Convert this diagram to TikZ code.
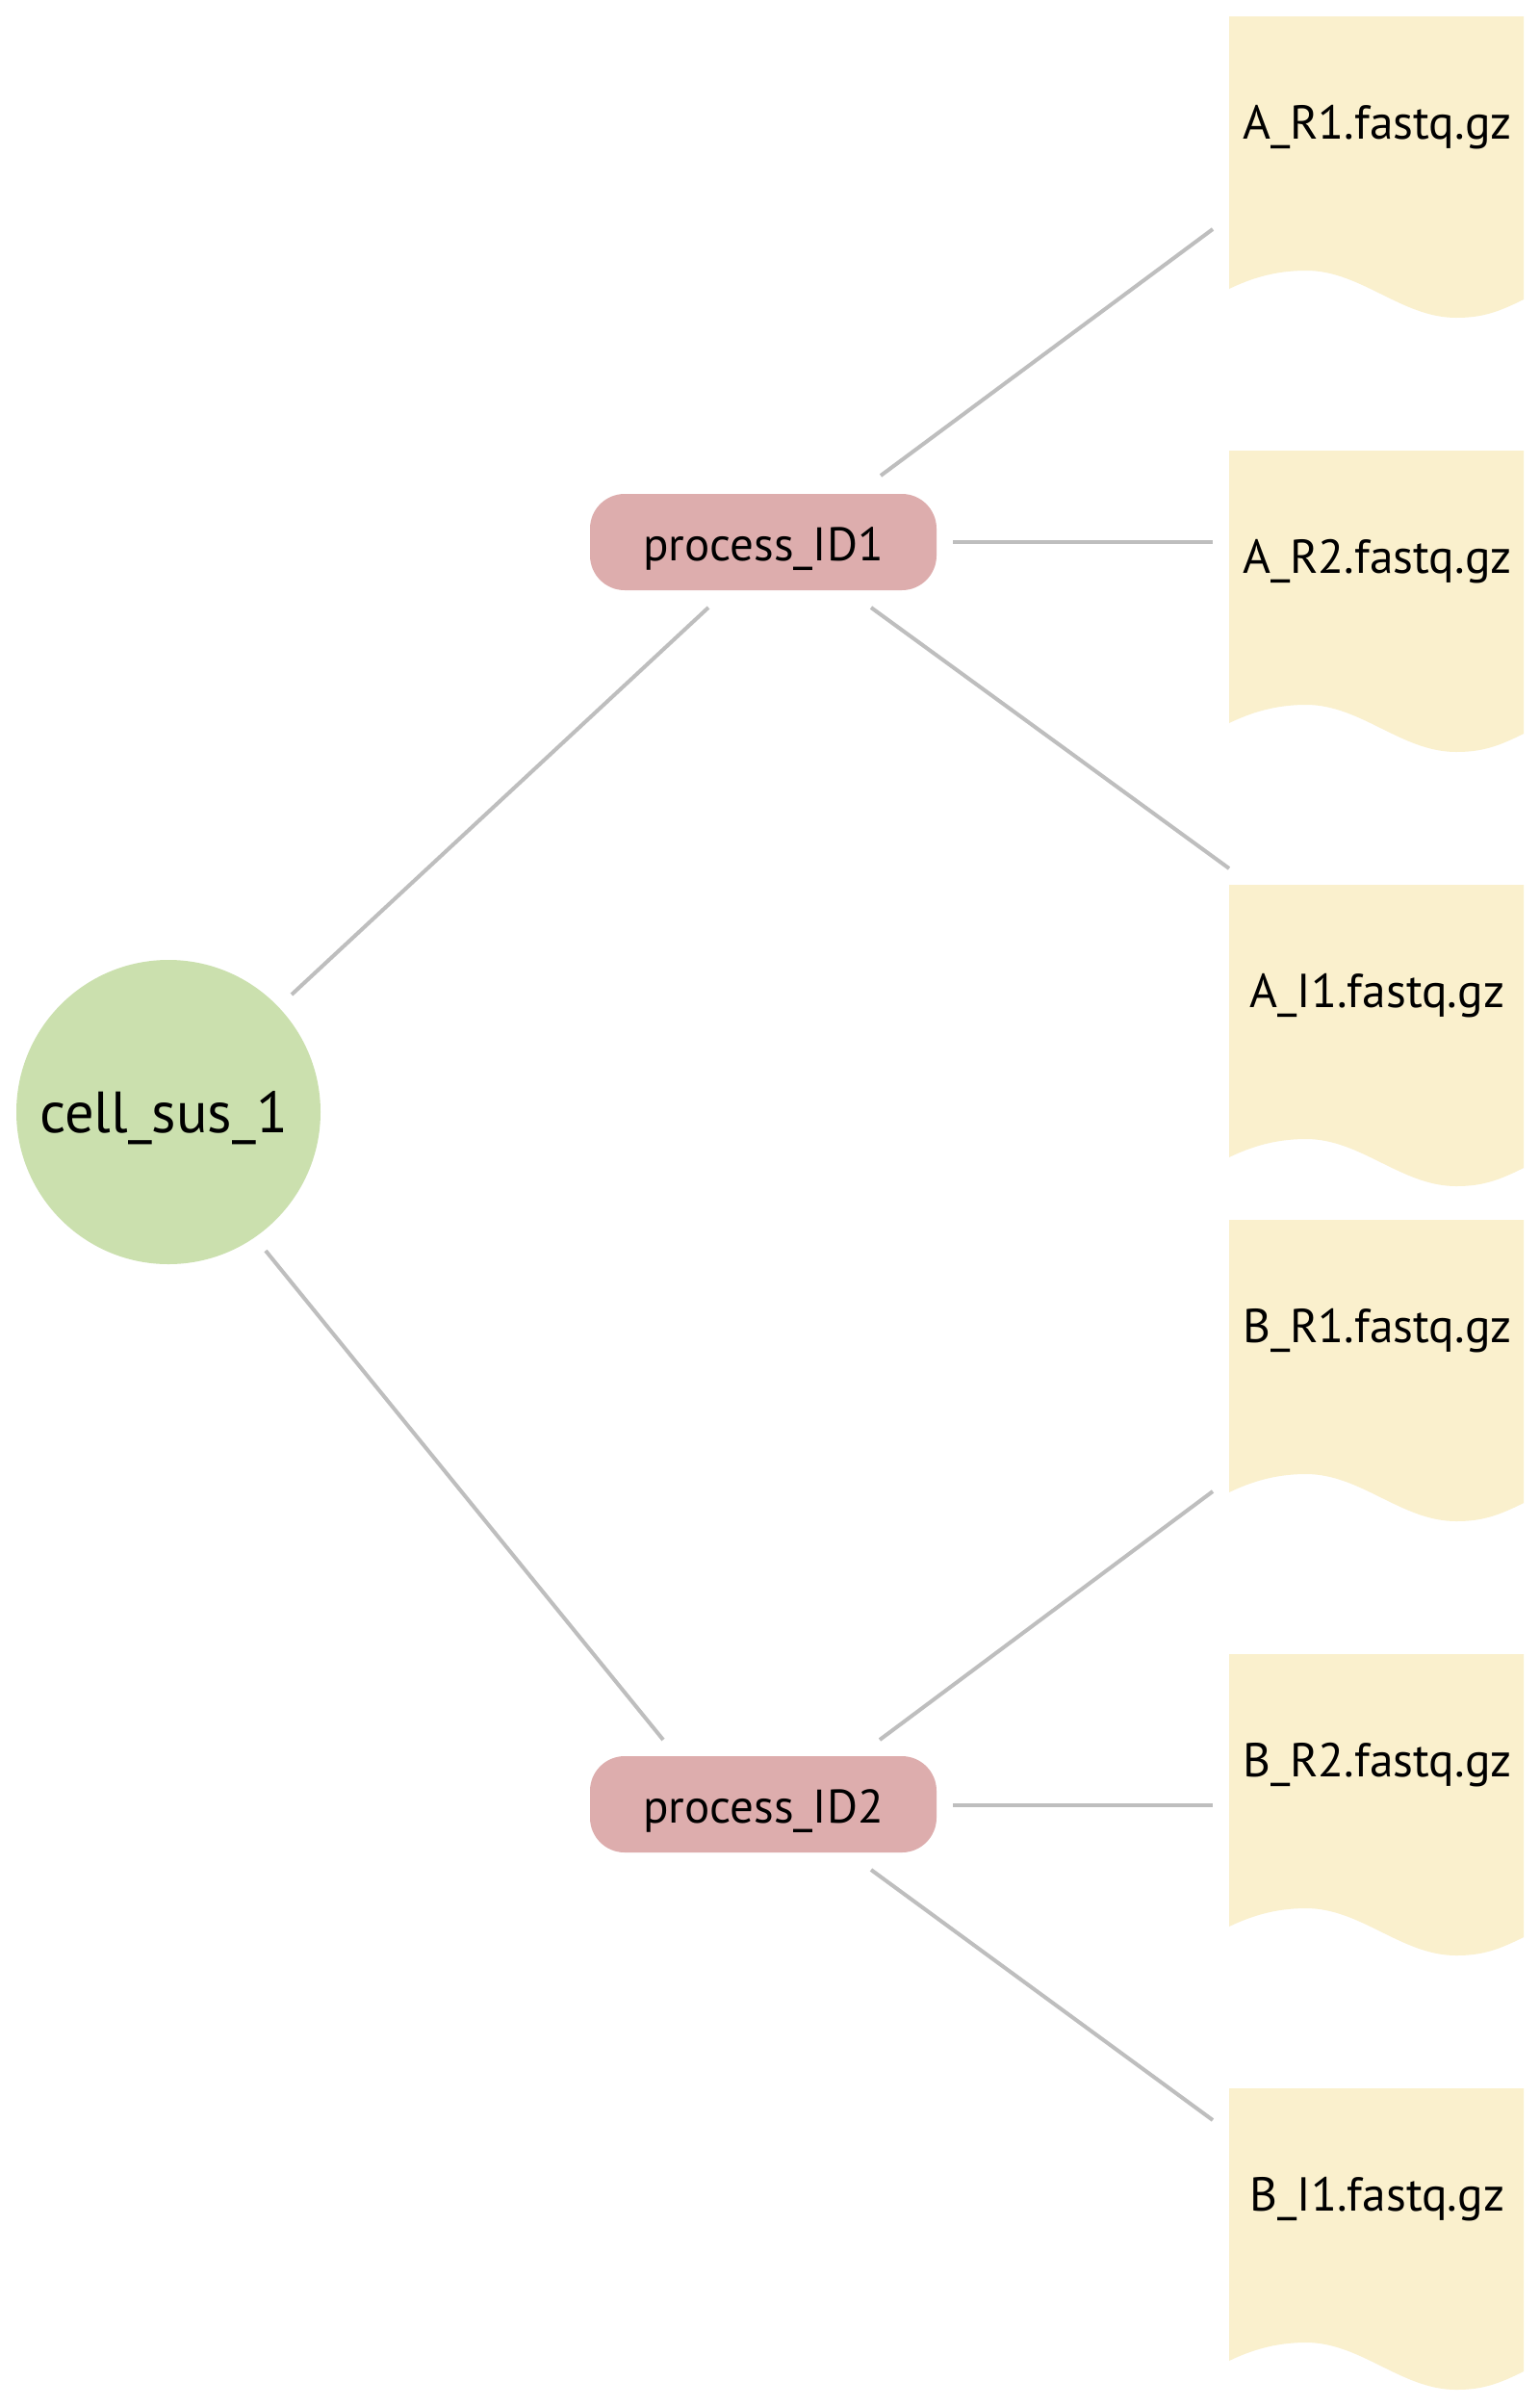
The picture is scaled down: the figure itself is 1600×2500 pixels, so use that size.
\documentclass[tikz,border=0pt]{standalone}
\usepackage{fontspec}
\setmainfont{PT Sans}
\definecolor{cellgreen}{RGB}{203,224,174}
\definecolor{procpink}{RGB}{221,173,173}
\definecolor{docyellow}{RGB}{250,240,205}
\definecolor{edgegray}{RGB}{190,190,190}
\newcommand\docat[3]{%
  \fill[docyellow] (1277,#1) -- (1583,#1) -- (1583,{#1+294})
    .. controls (1557,{#1+307}) and (1540,{#1+313}) .. (1513,{#1+313})
    .. controls (1456,{#1+313}) and (1414,{#1+264}) .. (1357,{#1+264})
    .. controls (1325,{#1+264}) and (1300,{#1+272}) .. (1277,{#1+283}) -- cycle;
  \node[doctext] (#2) at (1431,{#1+127}) {#3};
}
\begin{document}
\begin{tikzpicture}[x=1pt,y=-1pt,
  doctext/.style={anchor=base,inner sep=0pt,font=\fontsize{49.5}{58}\selectfont},
  proc/.style={fill=procpink,rounded corners=36pt,minimum width=360pt,minimum height=100pt,
    inner sep=0pt,text height=34pt,text depth=0pt,font=\fontsize{49}{58}\selectfont},
  cellnode/.style={circle,fill=cellgreen,minimum size=316pt,inner sep=0pt,
    text height=42pt,text depth=0pt,font=\fontsize{60.5}{72}\selectfont},
  edge/.style={draw=edgegray,line width=4pt}]
\useasboundingbox (0,0) rectangle (1600,2500);
\fill[white] (0,0) rectangle (1600,2500);

\node[cellnode] (cell) at (175,1155) {\hspace*{-10pt}cell\_sus\_1};
\node[proc] (p1) at (793,563) {\raisebox{-2pt}{process\_ID1}};
\node[proc] (p2) at (793,1874) {\raisebox{-2pt}{process\_ID2}};

\docat{17}{ar1}{A\_R1.fastq.gz}
\docat{468}{ar2}{A\_R2.fastq.gz}
\docat{919}{ai1}{A\_I1.fastq.gz}
\docat{1267}{br1}{B\_R1.fastq.gz}
\docat{1718}{br2}{B\_R2.fastq.gz}
\docat{2169}{bi1}{B\_I1.fastq.gz}

% connector end points
\coordinate (c-up) at (303,1033);
\coordinate (p1-in) at (736,631);
\coordinate (c-dn) at (276,1299);
\coordinate (p2-in) at (689,1807);
\coordinate (p1-a) at (915,494);
\coordinate (ar1-in) at (1260,238);
\coordinate (p1-b) at (990,563);
\coordinate (ar2-in) at (1260,563);
\coordinate (p1-c) at (905,631);
\coordinate (ai1-in) at (1277,902);
\coordinate (p2-a) at (914,1807);
\coordinate (br1-in) at (1260,1549);
\coordinate (p2-b) at (990,1875);
\coordinate (br2-in) at (1260,1875);
\coordinate (p2-c) at (905,1942);
\coordinate (bi1-in) at (1260,2202);

\draw[edge] (c-up) -- (p1-in);
\draw[edge] (c-dn) -- (p2-in);
\draw[edge] (p1-a) -- (ar1-in);
\draw[edge] (p1-b) -- (ar2-in);
\draw[edge] (p1-c) -- (ai1-in);
\draw[edge] (p2-a) -- (br1-in);
\draw[edge] (p2-b) -- (br2-in);
\draw[edge] (p2-c) -- (bi1-in);
\end{tikzpicture}
\end{document}
